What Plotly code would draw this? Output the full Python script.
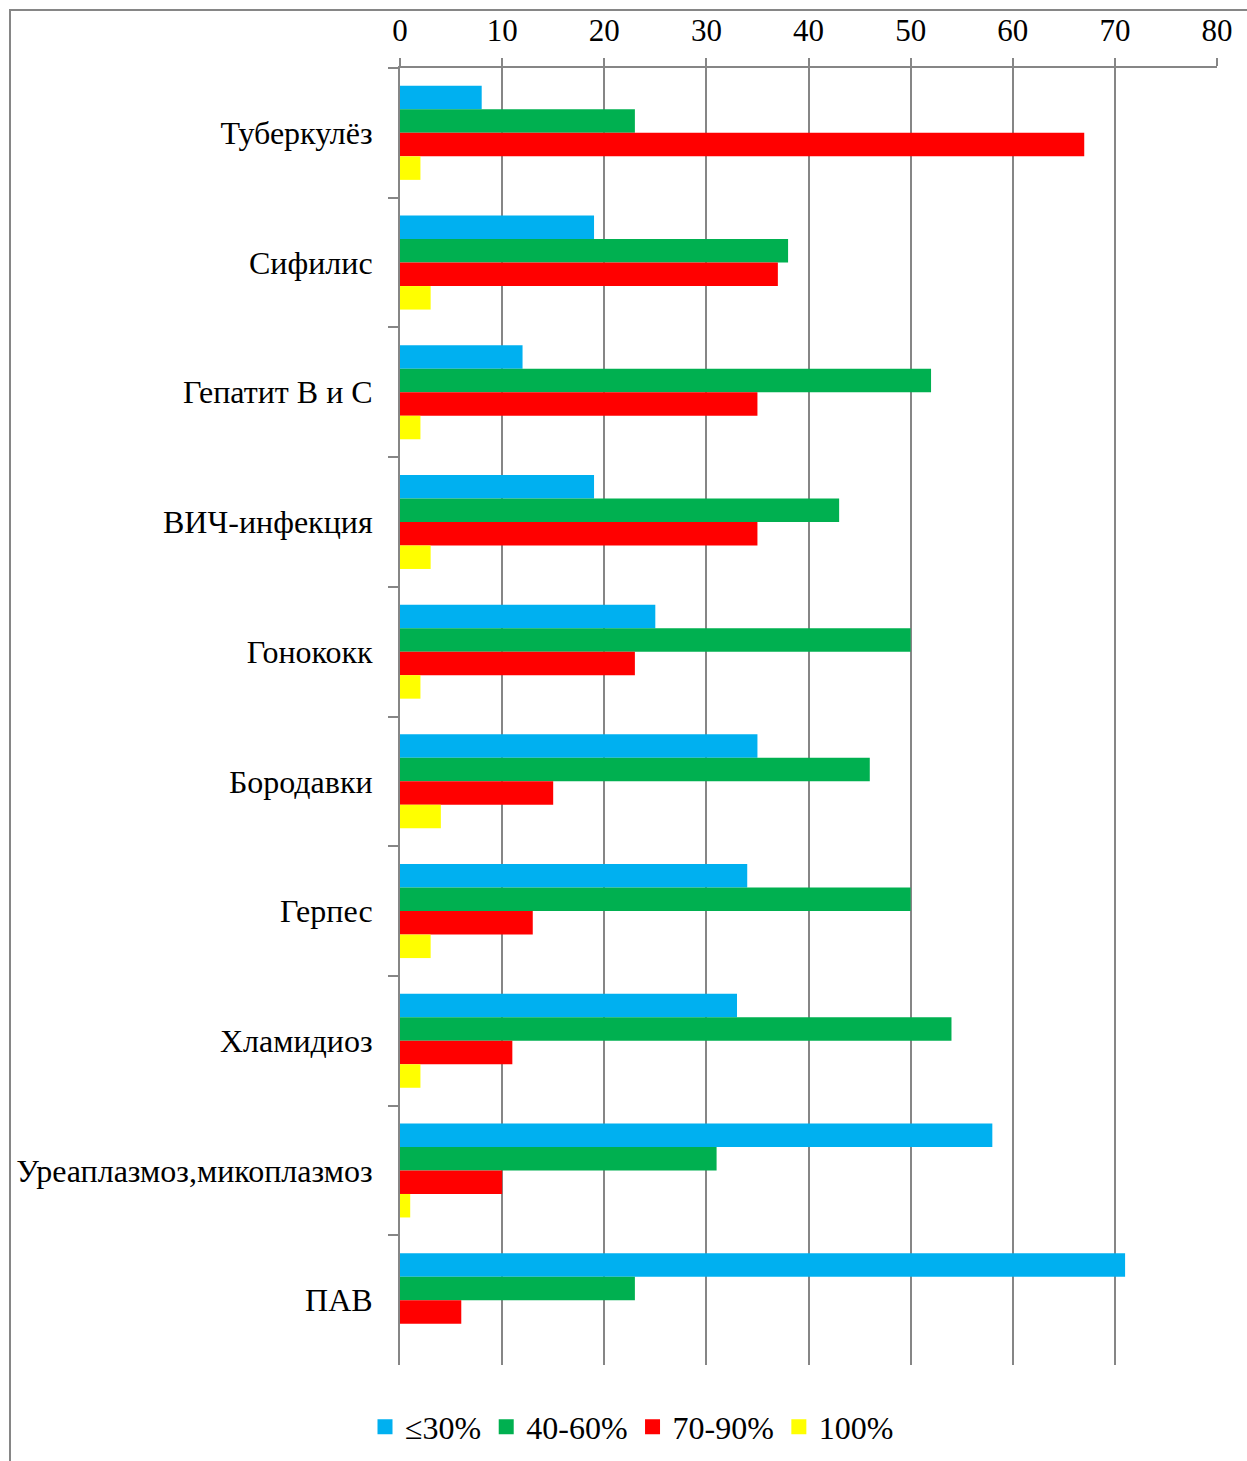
import plotly.graph_objects as go

categories = ["Туберкулёз", "Сифилис", "Гепатит В и С", "ВИЧ-инфекция", "Гонококк",
              "Бородавки", "Герпес", "Хламидиоз", "Уреаплазмоз,микоплазмоз", "ПАВ"]
series_names = ["≤30%", "40-60%", "70-90%", "100%"]
le30 = [8, 19, 12, 19, 25, 35, 34, 33, 58, 71]
p40_60 = [23, 38, 52, 43, 50, 46, 50, 54, 31, 23]
p70_90 = [67, 37, 35, 35, 23, 15, 13, 11, 10, 6]
p100 = [2, 3, 2, 3, 2, 4, 3, 2, 1, 0]
colors = ["#00B0F0", "#00B050", "#FF0000", "#FFFF00"]
x_ticks = [0, 10, 20, 30, 40, 50, 60, 70, 80]

font_family = "Liberation Serif, Times New Roman, serif"

fig = go.Figure()
for name, vals, col in zip(series_names, [le30, p40_60, p70_90, p100], colors):
    fig.add_trace(go.Bar(y=categories, x=vals, name=name, orientation="h",
                         marker=dict(color=col, line=dict(width=0)),
                         legendgroup=name, showlegend=False))
# legend entries with larger square swatches
for name, col in zip(series_names, colors):
    fig.add_trace(go.Scatter(x=[None], y=[None], mode="markers", name=name,
                             legendgroup=name,
                             marker=dict(symbol="square", size=15, color=col,
                                         line=dict(width=0))))

W, H = 1247, 1461
L, R, T, B = 400, 30, 68, 96
pw, ph = W - L - R, H - T - B

def px_x(p):
    return (p - L) / pw

def px_y(p):
    return (H - B - p) / ph

fig.update_layout(
    width=W, height=H,
    margin=dict(l=L, r=R, t=T, b=B, autoexpand=False),
    barmode="group", bargap=0.275, bargroupgap=0,
    plot_bgcolor="white", paper_bgcolor="white",
    font=dict(family=font_family, size=32, color="black"),
    legend=dict(orientation="h", xref="container", yref="container",
                x=632 / W, xanchor="center", y=(H - 1427) / H, yanchor="middle",
                font=dict(family=font_family, size=32, color="black"), traceorder="normal",
                itemwidth=30, bgcolor="rgba(0,0,0,0)"),
    xaxis=dict(side="top", range=[0, 80], tickvals=x_ticks, ticks="outside", ticklen=8,
               tickcolor="#868686", tickwidth=2, showgrid=True, gridcolor="#868686", gridwidth=2,
               showline=True, linecolor="#868686", linewidth=2, zeroline=False,
               ticklabelstandoff=5, tickfont=dict(family=font_family, size=31, color="black")),
    yaxis=dict(categoryorder="array", categoryarray=categories, autorange="reversed",
               ticks="outside", tickson="boundaries", ticklen=10, tickcolor="#868686", tickwidth=2,
               showline=True, linecolor="#868686", linewidth=2, showgrid=False,
               ticklabelstandoff=19, tickfont=dict(family=font_family, size=32, color="black")),
    shapes=[dict(type="rect", xref="paper", yref="paper",
                 x0=px_x(10), x1=px_x(1260), y0=px_y(1480), y1=px_y(10),
                 line=dict(color="#868686", width=2), fillcolor="rgba(0,0,0,0)", layer="below")],
)

fig.write_html("out.html")
